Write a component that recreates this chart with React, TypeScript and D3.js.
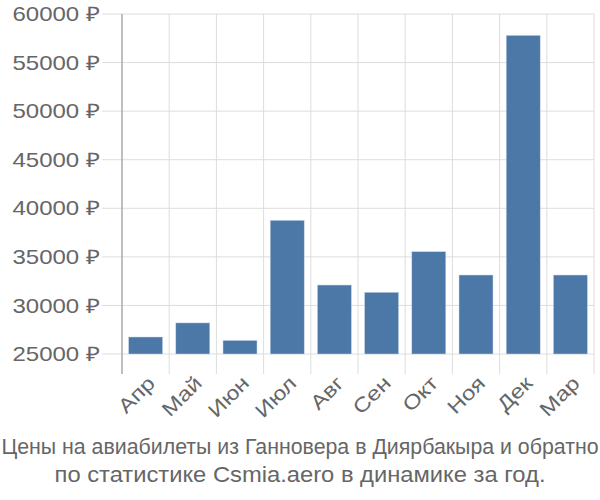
import React from "react";
import * as d3 from "d3";

const months = ["Апр", "Май", "Июн", "Июл", "Авг", "Сен", "Окт", "Ноя", "Дек", "Мар"];
const prices = [26750, 28200, 26400, 38760, 32100, 31350, 35530, 33130, 57800, 33130];
const yTicks = [25000, 30000, 35000, 40000, 45000, 50000, 55000, 60000];
const titleLines = [
  "Цены на авиабилеты из Ганновера в Диярбакыра и обратно",
  "по статистике Csmia.aero в динамике за год.",
];

export default function App() {
  const W = 600, H = 500;
  const left = 122, right = 594, top = 14, bottom = 354;
  const x = d3.scaleBand<string>().domain(months).range([left, right]).paddingInner(0.28).paddingOuter(0.14);
  const xb = d3.scaleBand<string>().domain(months).range([left, right]);
  const y = d3.scaleLinear().domain([25000, 60000]).range([bottom, top]);
  const font = "'Liberation Sans', Arial, sans-serif";
  const grid = "#dddddd";
  const txt = "#666666";
  return (
    <svg width={W} height={H} style={{ position: "absolute", left: 0, top: 0 }} fontFamily={font}>
      <rect width={W} height={H} fill="#fff" />
      {yTicks.map((t) => (
        <g key={t}>
          <line x1={left - 20} x2={right} y1={y(t)} y2={y(t)} stroke={grid} strokeWidth={1} />
          <text transform={`translate(${left - 22},${y(t)}) scale(1.2,1)`} dy="0.36em" textAnchor="end" fontSize={20} fill={txt}>
            {t} ₽
          </text>
        </g>
      ))}
      {months.map((m, i) => (
        <line key={"v" + m} x1={xb(m)!} x2={xb(m)!} y1={top} y2={bottom + 20} stroke={i === 0 ? "#aaaaaa" : grid} strokeWidth={i === 0 ? 1.5 : 1} />
      ))}
      <line x1={right} x2={right} y1={top} y2={bottom + 20} stroke={grid} strokeWidth={1} />
      {months.map((m, i) => (
        <rect key={"b" + m} x={x(m)!} y={y(prices[i])} width={x.bandwidth()} height={bottom - y(prices[i])} fill="#4c78a8" stroke="#c8d6e6" strokeWidth={0.5} />
      ))}
      {months.map((m) => {
        const cx = xb(m)! + xb.bandwidth() / 2 + 2;
        const cy = bottom + 22;
        return (
          <text key={"l" + m} transform={`translate(${cx},${cy}) rotate(-45) scale(1.2,1)`} textAnchor="end" fontSize={20} fill={txt} dy="0.6em">
            {m}
          </text>
        );
      })}
      <text transform="translate(300,454) scale(0.97,1)" textAnchor="middle" fontSize={22} fill={txt}>
        {titleLines[0]}
      </text>
      <text transform="translate(300,482) scale(1.08,1)" textAnchor="middle" fontSize={22} fill={txt}>
        {titleLines[1]}
      </text>
    </svg>
  );
}
